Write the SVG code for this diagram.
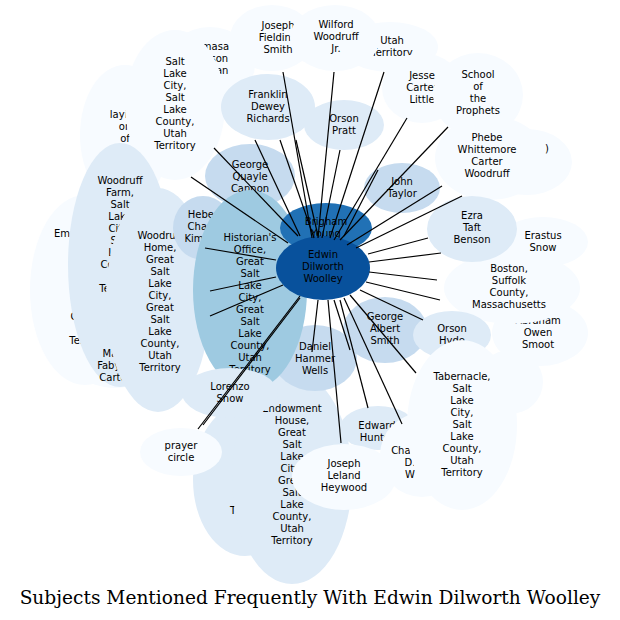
<svg xmlns="http://www.w3.org/2000/svg" width="620" height="620" viewBox="0 0 620 620">
<style>
.a{fill:#f7fbff}.b{fill:#deebf7}.c{fill:#c6dbef}.d{fill:#9ecae1}.e{fill:#2171b5}.f{fill:#08519c}
text{font-family:"DejaVu Sans",sans-serif;font-size:10px;text-anchor:middle;fill:#000}
#edges line{stroke:#000;stroke-width:1.2}
.t{font-family:"DejaVu Serif",serif;font-size:18.6px}
</style>
<rect width="620" height="620" fill="#fff"/>
<g id="n1"><ellipse class="a" cx="125" cy="135" rx="45" ry="70"/><text x="125" y="118">laying</text><text x="125" y="130">on</text><text x="125" y="142">of</text></g>
<g id="n2"><ellipse class="a" cx="210" cy="65" rx="45" ry="38"/><text x="212" y="50">Amasa</text><text x="212" y="62">Mason</text><text x="212" y="74">Lyman</text></g>
<g id="n3"><ellipse class="a" cx="175" cy="105" rx="50" ry="75"/><text x="175" y="65">Salt</text><text x="175" y="77">Lake</text><text x="175" y="89">City,</text><text x="175" y="101">Salt</text><text x="175" y="113">Lake</text><text x="175" y="125">County,</text><text x="175" y="137">Utah</text><text x="175" y="149">Territory</text></g>
<g id="n4"><ellipse class="a" cx="272" cy="38" rx="42" ry="33"/><text x="278" y="29">Joseph</text><text x="278" y="41">Fielding</text><text x="278" y="53">Smith</text></g>
<g id="n5"><ellipse class="a" cx="390" cy="47" rx="48" ry="25"/><text x="392" y="44">Utah</text><text x="392" y="56">Territory</text></g>
<g id="n6"><ellipse class="a" cx="335" cy="38" rx="45" ry="33"/><text x="336" y="28">Wilford</text><text x="336" y="40">Woodruff</text><text x="336" y="52">Jr.</text></g>
<g id="n7"><ellipse class="a" cx="422" cy="88" rx="40" ry="35"/><text x="422" y="79">Jesse</text><text x="422" y="91">Carter</text><text x="422" y="103">Little</text></g>
<g id="n8"><ellipse class="a" cx="478" cy="95" rx="45" ry="42"/><text x="478" y="78">School</text><text x="478" y="90">of</text><text x="478" y="102">the</text><text x="478" y="114">Prophets</text></g>
<g id="n9"><ellipse class="a" cx="527" cy="162" rx="45" ry="33"/><text x="547" y="152">)</text></g>
<g id="n10"><ellipse class="a" cx="490" cy="158" rx="55" ry="42"/><text x="487" y="141">Phebe</text><text x="487" y="153">Whittemore</text><text x="487" y="165">Carter</text><text x="487" y="177">Woodruff</text></g>
<g id="n11"><ellipse class="a" cx="543" cy="242" rx="45" ry="25"/><text x="543" y="239">Erastus</text><text x="543" y="251">Snow</text></g>
<g id="n13"><ellipse class="a" cx="540" cy="333" rx="48" ry="33"/><text x="538" y="324">Abraham</text><text x="538" y="336">Owen</text><text x="538" y="348">Smoot</text></g>
<g id="n12"><ellipse class="a" cx="512" cy="288" rx="68" ry="36"/><text x="509" y="272">Boston,</text><text x="509" y="284">Suffolk</text><text x="509" y="296">County,</text><text x="509" y="308">Massachusetts</text></g>
<g id="n14"><ellipse class="a" cx="510" cy="382" rx="33" ry="32"/></g>
<g id="n15"><ellipse class="a" cx="85" cy="290" rx="55" ry="95"/><text x="70" y="237">Emma</text></g>
<g id="n16"><ellipse class="a" cx="115" cy="340" rx="55" ry="48"/><text x="90" y="308">Lake</text><text x="90" y="320">County,</text><text x="90" y="332">Utah</text><text x="90" y="344">Territory</text></g>
<g id="n17"><ellipse class="b" cx="120" cy="265" rx="52" ry="122"/><text x="120" y="184">Woodruff</text><text x="120" y="196">Farm,</text><text x="120" y="208">Salt</text><text x="120" y="220">Lake</text><text x="120" y="232">City,</text><text x="120" y="244">Salt</text><text x="120" y="256">Lake</text><text x="120" y="268">County,</text><text x="120" y="280">Utah</text><text x="120" y="292">Territory</text></g>
<g id="n18"><text x="115" y="357">Mary</text><text x="115" y="369">Fabyan</text><text x="115" y="381">Carter</text></g>
<g id="n19"><ellipse class="b" cx="158" cy="300" rx="52" ry="112"/><text x="160" y="239">Woodruff</text><text x="160" y="251">Home,</text><text x="160" y="263">Great</text><text x="160" y="275">Salt</text><text x="160" y="287">Lake</text><text x="160" y="299">City,</text><text x="160" y="311">Great</text><text x="160" y="323">Salt</text><text x="160" y="335">Lake</text><text x="160" y="347">County,</text><text x="160" y="359">Utah</text><text x="160" y="371">Territory</text></g>
<g id="n20"><ellipse class="b" cx="268" cy="107" rx="47" ry="33"/><text x="268" y="98">Franklin</text><text x="268" y="110">Dewey</text><text x="268" y="122">Richards</text></g>
<g id="n21"><ellipse class="b" cx="344" cy="125" rx="40" ry="25"/><text x="344" y="122">Orson</text><text x="344" y="134">Pratt</text></g>
<g id="n22"><ellipse class="c" cx="250" cy="176" rx="45" ry="32"/><text x="250" y="168">George</text><text x="250" y="180">Quayle</text><text x="250" y="192">Cannon</text></g>
<g id="n23"><ellipse class="c" cx="402" cy="188" rx="38" ry="25"/><text x="402" y="185">John</text><text x="402" y="197">Taylor</text></g>
<g id="n24"><ellipse class="b" cx="472" cy="229" rx="45" ry="33"/><text x="472" y="219">Ezra</text><text x="472" y="231">Taft</text><text x="472" y="243">Benson</text></g>
<g id="n25"><ellipse class="c" cx="203" cy="228" rx="30" ry="32"/><text x="203" y="218">Heber</text><text x="203" y="230">Chase</text><text x="203" y="242">Kimball</text></g>
<g id="n26"><ellipse class="b" cx="245" cy="480" rx="52" ry="76"/><text x="233" y="514">T</text></g>
<g id="n27"><ellipse class="b" cx="292" cy="478" rx="60" ry="106"/><text x="292" y="412">Endowment</text><text x="292" y="424">House,</text><text x="292" y="436">Great</text><text x="292" y="448">Salt</text><text x="292" y="460">Lake</text><text x="292" y="472">City,</text><text x="292" y="484">Great</text><text x="292" y="496">Salt</text><text x="292" y="508">Lake</text><text x="292" y="520">County,</text><text x="292" y="532">Utah</text><text x="292" y="544">Territory</text></g>
<g id="n28"><ellipse class="c" cx="315" cy="358" rx="42" ry="33"/><text x="315" y="350">Daniel</text><text x="315" y="362">Hanmer</text><text x="315" y="374">Wells</text></g>
<g id="n29"><ellipse class="d" cx="250" cy="290" rx="57" ry="100"/><text x="250" y="241">Historian's</text><text x="250" y="253">Office,</text><text x="250" y="265">Great</text><text x="250" y="277">Salt</text><text x="250" y="289">Lake</text><text x="250" y="301">City,</text><text x="250" y="313">Great</text><text x="250" y="325">Salt</text><text x="250" y="337">Lake</text><text x="250" y="349">County,</text><text x="250" y="361">Utah</text><text x="250" y="373">Territory</text></g>
<g id="n30"><ellipse class="b" cx="230" cy="393" rx="48" ry="25"/><text x="230" y="390">Lorenzo</text><text x="230" y="402">Snow</text></g>
<g id="n31"><ellipse class="a" cx="181" cy="452" rx="41" ry="24"/><text x="181" y="449">prayer</text><text x="181" y="461">circle</text></g>
<g id="n32"><ellipse class="c" cx="385" cy="330" rx="42" ry="33"/><text x="385" y="320">George</text><text x="385" y="332">Albert</text><text x="385" y="344">Smith</text></g>
<g id="n33"><ellipse class="b" cx="452" cy="335" rx="39" ry="24"/><text x="452" y="332">Orson</text><text x="452" y="344">Hyde</text></g>
<g id="n34"><ellipse class="b" cx="378" cy="428" rx="38" ry="22"/><text x="377" y="429">Edward</text><text x="377" y="441">Hunter</text></g>
<g id="n35"><ellipse class="a" cx="422" cy="455" rx="42" ry="42"/><text x="410" y="454">Charles</text><text x="410" y="466">D.</text><text x="410" y="478">W</text></g>
<g id="n36"><ellipse class="a" cx="462" cy="425" rx="55" ry="85"/><text x="462" y="380">Tabernacle,</text><text x="462" y="392">Salt</text><text x="462" y="404">Lake</text><text x="462" y="416">City,</text><text x="462" y="428">Salt</text><text x="462" y="440">Lake</text><text x="462" y="452">County,</text><text x="462" y="464">Utah</text><text x="462" y="476">Territory</text></g>
<g id="n37"><ellipse class="a" cx="344" cy="477" rx="52" ry="33"/><text x="344" y="467">Joseph</text><text x="344" y="479">Leland</text><text x="344" y="491">Heywood</text></g>
<g id="n38"><ellipse class="e" cx="326" cy="228" rx="46" ry="25"/><text x="326" y="225">Brigham</text><text x="326" y="237">Young</text></g>
<g id="n39"><ellipse class="f" cx="323" cy="268" rx="47" ry="32"/><text x="323" y="258">Edwin</text><text x="323" y="270">Dilworth</text><text x="323" y="282">Woolley</text></g>
<g id="edges">
<line x1="283" y1="72" x2="312" y2="238"/><line x1="334" y1="72" x2="318" y2="238"/><line x1="384" y1="72" x2="330" y2="238"/>
<line x1="407" y1="118" x2="334" y2="240"/><line x1="448" y1="127" x2="340" y2="240"/><line x1="340" y1="150" x2="322" y2="238"/>
<line x1="280" y1="140" x2="314" y2="238"/><line x1="296" y1="140" x2="318" y2="236"/><line x1="214" y1="148" x2="298" y2="236"/>
<line x1="191" y1="177" x2="288" y2="243"/><line x1="255" y1="140" x2="300" y2="236"/><line x1="378" y1="170" x2="344" y2="236"/>
<line x1="442" y1="186" x2="347" y2="245"/><line x1="462" y1="196" x2="356" y2="248"/><line x1="428" y1="238" x2="368" y2="254"/>
<line x1="441" y1="253" x2="369" y2="262"/><line x1="437" y1="280" x2="369" y2="272"/><line x1="440" y1="300" x2="366" y2="282"/>
<line x1="423" y1="320" x2="360" y2="290"/><line x1="416" y1="373" x2="350" y2="295"/><line x1="402" y1="424" x2="344" y2="298"/>
<line x1="368" y1="408" x2="340" y2="300"/><line x1="350" y1="350" x2="334" y2="300"/><line x1="341" y1="443" x2="328" y2="300"/>
<line x1="312" y1="352" x2="318" y2="300"/><line x1="205" y1="248" x2="276" y2="260"/><line x1="210" y1="291" x2="276" y2="277"/>
<line x1="210" y1="316" x2="283" y2="285"/><line x1="198" y1="429" x2="300" y2="296"/><line x1="203" y1="425" x2="300" y2="298"/>
</g>
<text class="t" x="310" y="604">Subjects Mentioned Frequently With Edwin Dilworth Woolley</text>
</svg>
